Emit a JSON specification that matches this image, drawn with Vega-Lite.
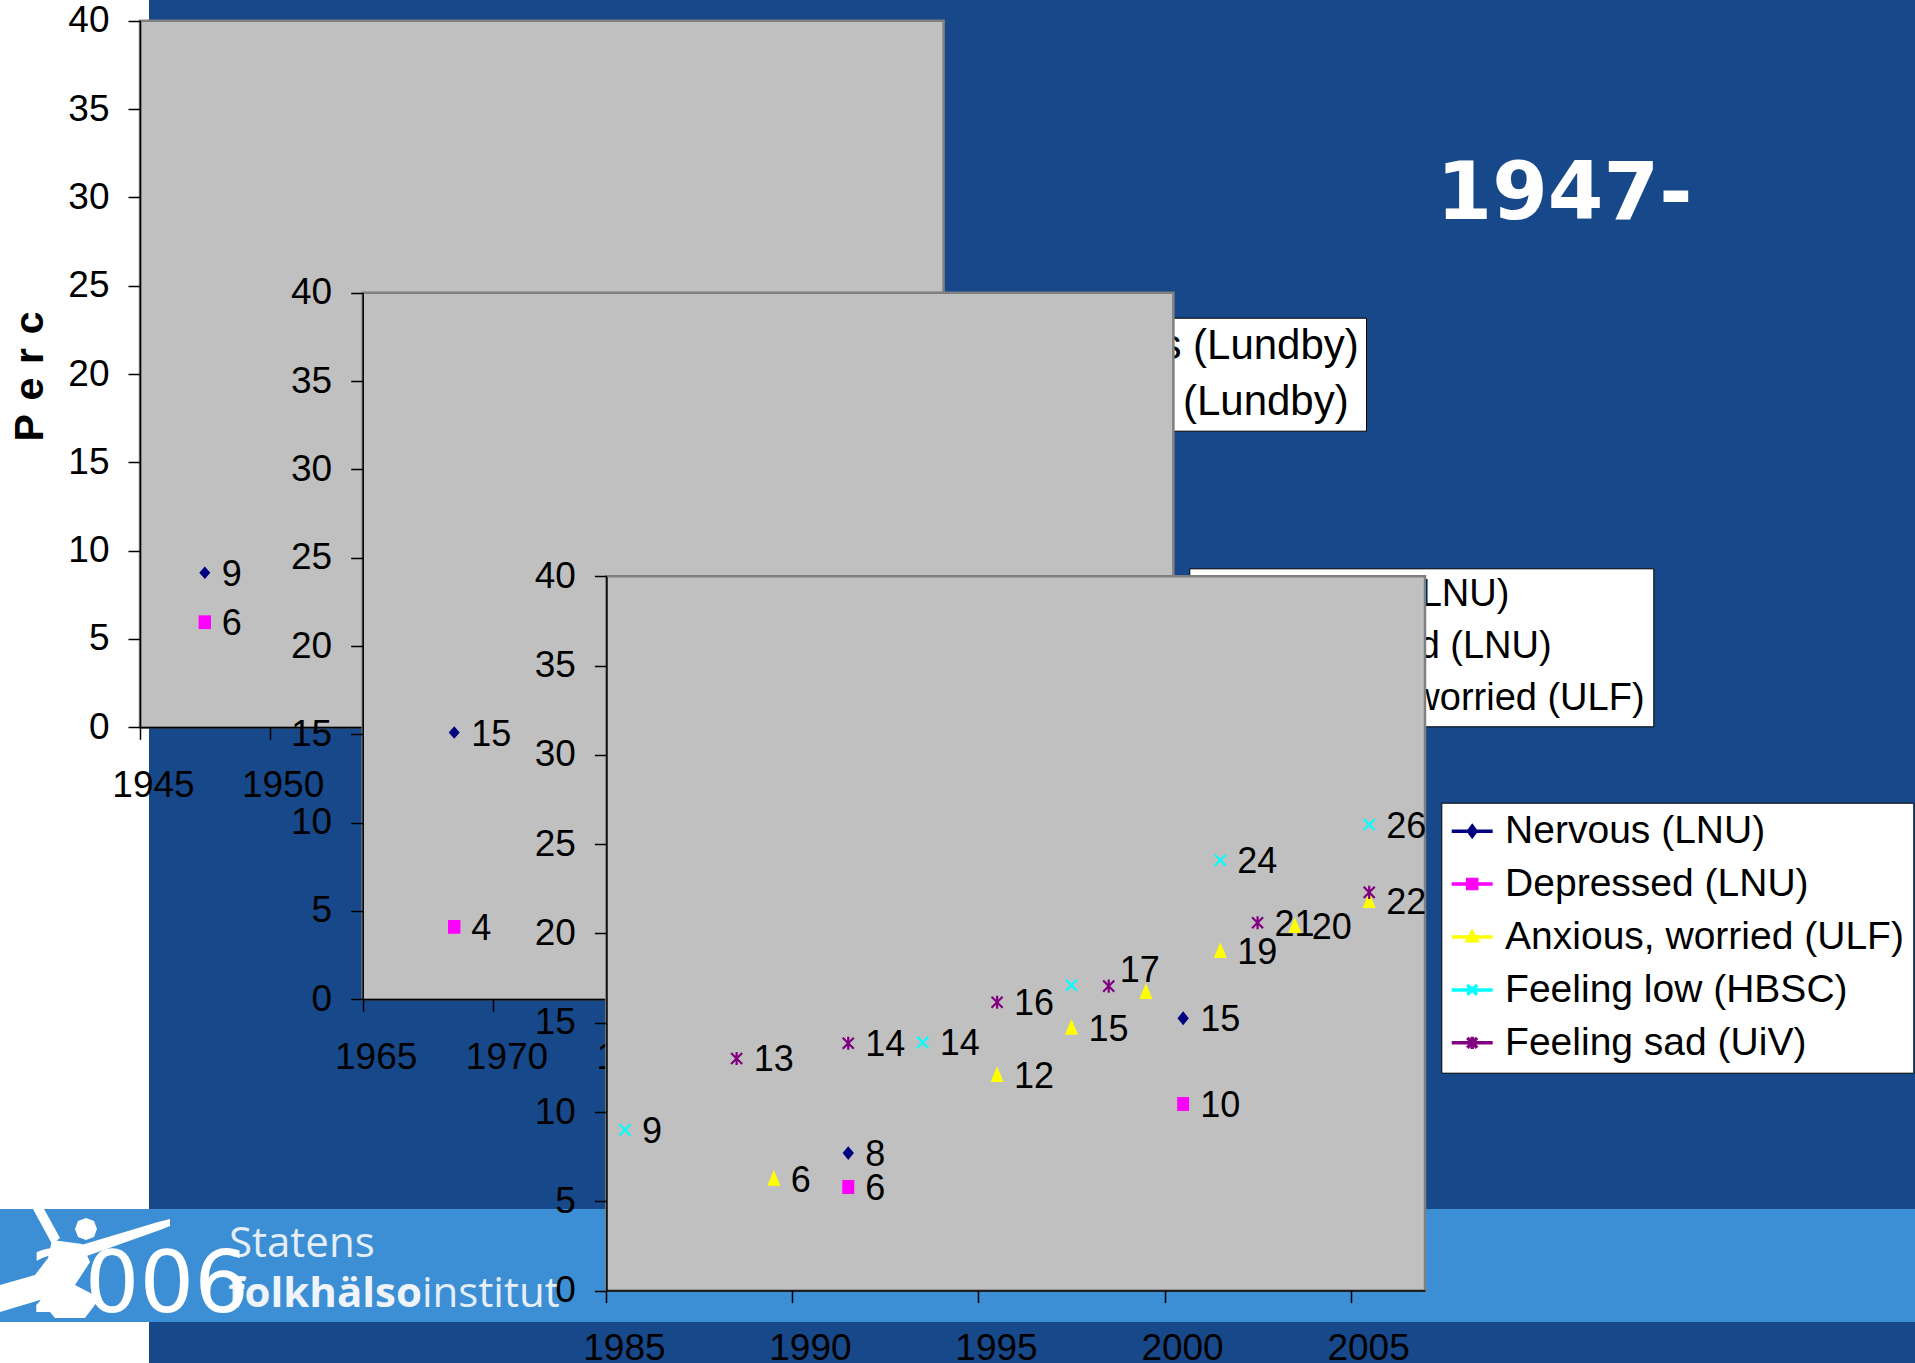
{
  "$schema": "https://vega.github.io/schema/vega-lite/v6.json",
  "background": "#17488A",
  "padding": 0,
  "spacing": 0,
  "bounds": "flush",
  "resolve": {
    "scale": {"color": "independent", "shape": "independent", "stroke": "independent"},
    "legend": {"color": "independent", "shape": "independent", "stroke": "independent"}
  },
  "datasets": {
    "chart1": [
      {"series": "Nervous (Lundby)", "year": 1947.5, "value": 8.75, "label": "9"},
      {"series": "Worried (Lundby)", "year": 1947.5, "value": 5.95, "label": "6"}
    ],
    "chart2": [
      {"series": "Nervous (LNU)", "year": 1968.5, "value": 15.1, "label": "15"},
      {"series": "Depressed (LNU)", "year": 1968.5, "value": 4.1, "label": "4"}
    ],
    "chart3": [
      {"series": "Nervous (LNU)", "year": 1991.5, "value": 7.7, "label": "8"},
      {"series": "Nervous (LNU)", "year": 2000.5, "value": 15.25, "label": "15"},
      {"series": "Depressed (LNU)", "year": 1991.5, "value": 5.8, "label": "6"},
      {"series": "Depressed (LNU)", "year": 2000.5, "value": 10.45, "label": "10"},
      {"series": "Anxious, worried (ULF)", "year": 1989.5, "value": 6.25, "label": "6"},
      {"series": "Anxious, worried (ULF)", "year": 1995.5, "value": 12.05, "label": "12"},
      {"series": "Anxious, worried (ULF)", "year": 1997.5, "value": 14.7, "label": "15"},
      {"series": "Anxious, worried (ULF)", "year": 1999.5, "value": 16.7, "label": ""},
      {"series": "Anxious, worried (ULF)", "year": 2001.5, "value": 19.0, "label": "19"},
      {"series": "Anxious, worried (ULF)", "year": 2003.5, "value": 20.4, "label": "20"},
      {"series": "Anxious, worried (ULF)", "year": 2005.5, "value": 21.8, "label": "22"},
      {"series": "Feeling low (HBSC)", "year": 1985.5, "value": 9.0, "label": "9"},
      {"series": "Feeling low (HBSC)", "year": 1993.5, "value": 13.9, "label": "14"},
      {"series": "Feeling low (HBSC)", "year": 1997.5, "value": 17.1, "label": ""},
      {"series": "Feeling low (HBSC)", "year": 2001.5, "value": 24.1, "label": "24"},
      {"series": "Feeling low (HBSC)", "year": 2005.5, "value": 26.1, "label": "26"},
      {"series": "Feeling sad (UiV)", "year": 1988.5, "value": 13.0, "label": "13"},
      {"series": "Feeling sad (UiV)", "year": 1991.5, "value": 13.85, "label": "14"},
      {"series": "Feeling sad (UiV)", "year": 1995.5, "value": 16.15, "label": "16"},
      {"series": "Feeling sad (UiV)", "year": 1998.5, "value": 17.05, "label": "17"},
      {"series": "Feeling sad (UiV)", "year": 2002.5, "value": 20.6, "label": "21"},
      {"series": "Feeling sad (UiV)", "year": 2005.5, "value": 22.3, "label": ""}
    ]
  },
  "config": {
    "view": {"stroke": null},
    "axis": {
      "grid": false,
      "labelFont": "Liberation Sans",
      "labelFontSize": 37,
      "labelColor": "#000000",
      "tickColor": "#000000",
      "tickWidth": 1.5,
      "tickSize": 12,
      "domainColor": "#000000",
      "domainWidth": 1.5,
      "labelFlush": false,
      "labelOverlap": false,
      "labelBound": false
    },
    "axisX": {"labelPadding": 28},
    "axisY": {"labelPadding": 19},
    "legend": {
      "labelFont": "Liberation Sans",
      "labelColor": "#000000",
      "labelLimit": 2000,
      "fillColor": "#FFFFFF",
      "strokeColor": "#000000"
    }
  },
  "vconcat": [
    {
      "width": 1915,
      "height": 1,
      "data": {"values": [{}]},
      "layer": [
        {
          "mark": {"type": "rect", "fill": "#FFFFFF"},
          "encoding": {"x": {"value": 0}, "x2": {"value": 149}, "y": {"value": 0}, "y2": {"value": 1363}}
        },
        {
          "mark": {"type": "rect", "fill": "#3C8FD4"},
          "encoding": {"x": {"value": 0}, "x2": {"value": 1915}, "y": {"value": 1209}, "y2": {"value": 1322}}
        },
        {
          "mark": {"type": "point", "filled": true, "fill": "#FFFFFF", "opacity": 1, "size": 28900, "shape": "M-0.612,-0.659L-0.482,-0.659L-0.294,-0.318L-0.388,-0.247ZM0.012,-0.553L0.106,-0.518L0.141,-0.424L0.106,-0.329L0.012,-0.294L-0.082,-0.329L-0.118,-0.424L-0.082,-0.518ZM-0.082,-0.224L0.859,-0.506L1,-0.541L1.0,-0.459L0.882,-0.412L-0.012,-0.094ZM-0.388,-0.294L-0.035,-0.247L0.059,-0.035L-0.118,0.235L0.176,0.388L0,0.624L-0.353,0.624L-0.529,0.412L-1,0.553L-1,0.235L-0.588,0.118L-0.435,-0.082Z"},
          "encoding": {"x": {"value": 85}, "y": {"value": 1265}}
        },
        {
          "mark": {"type": "text", "text": "Statens", "font": "Open Sans", "fontSize": 42, "color": "#E6EEF7", "align": "left", "baseline": "alphabetic"},
          "encoding": {"x": {"value": 229}, "y": {"value": 1256.7}}
        },
        {
          "mark": {"type": "text", "text": "folkhälso", "font": "Open Sans", "fontWeight": "bold", "fontSize": 42, "color": "#EEF4FA", "align": "right", "baseline": "alphabetic"},
          "encoding": {"x": {"value": 422}, "y": {"value": 1306.7}}
        },
        {
          "mark": {"type": "text", "text": "institut", "font": "Open Sans", "fontSize": 42, "color": "#E6EEF7", "align": "left", "baseline": "alphabetic"},
          "encoding": {"x": {"value": 422}, "y": {"value": 1306.7}}
        },
        {
          "mark": {"type": "text", "text": "2006", "font": "DejaVu Sans", "fontSize": 86, "color": "#FFFFFF", "align": "left", "baseline": "alphabetic"},
          "encoding": {"x": {"value": 30}, "y": {"value": 1311.7}}
        },
        {
          "mark": {"type": "text", "text": "1947-", "font": "DejaVu Sans", "fontWeight": "bold", "fontSize": 80, "color": "#FFFFFF", "align": "left", "baseline": "alphabetic"},
          "encoding": {"x": {"value": 1436.5}, "y": {"value": 219.3}}
        }
      ]
    },
    {
      "width": 1915,
      "height": 1,
      "data": {"name": "chart1"},
      "layer": [
        {
          "data": {"values": [{}]},
          "mark": {"type": "rect", "fill": "#C0C0C0", "stroke": "#808080", "strokeWidth": 2.5},
          "encoding": {
            "x": {"datum": 1945, "type": "quantitative", "scale": {"domain": [1945, 1976], "range": [140, 943.6], "nice": false, "zero": false}, "axis": {"orient": "bottom", "offset": 725.3, "values": [1945, 1950, 1955, 1960, 1965, 1970, 1975], "format": "d", "labelOffset": 13, "title": null, "zindex": 1}},
            "x2": {"datum": 1976},
            "y": {"datum": 0, "type": "quantitative", "scale": {"domain": [0, 40], "range": [726.3, 19.7], "nice": false, "zero": false}, "axis": {"orient": "left", "offset": -140, "values": [0, 5, 10, 15, 20, 25, 30, 35, 40], "title": "P\u2004e\u2004r\u2004c", "titleX": -109.3, "titleY": 375, "titleAngle": 270, "titleAlign": "center", "titleBaseline": "middle", "titleFont": "Liberation Sans", "titleFontWeight": "bold", "titleFontSize": 41, "titleColor": "#000000", "zindex": 1}},
            "y2": {"datum": 40}
          }
        },
        {
          "mark": {"type": "point", "filled": true, "opacity": 1, "size": 190, "strokeWidth": 0},
          "encoding": {
            "x": {"field": "year", "type": "quantitative", "scale": {"domain": [1945, 1976], "range": [140, 943.6], "nice": false, "zero": false}, "axis": {"orient": "bottom", "offset": 725.3, "values": [1945, 1950, 1955, 1960, 1965, 1970, 1975], "format": "d", "labelOffset": 13, "title": null, "zindex": 1}},
            "y": {"field": "value", "type": "quantitative", "scale": {"domain": [0, 40], "range": [726.3, 19.7], "nice": false, "zero": false}, "axis": {"orient": "left", "offset": -140, "values": [0, 5, 10, 15, 20, 25, 30, 35, 40], "title": "P\u2004e\u2004r\u2004c", "titleX": -109.3, "titleY": 375, "titleAngle": 270, "titleAlign": "center", "titleBaseline": "middle", "titleFont": "Liberation Sans", "titleFontWeight": "bold", "titleFontSize": 41, "titleColor": "#000000", "zindex": 1}},
            "color": {"field": "series", "type": "nominal", "scale": {"domain": ["Nervous (Lundby)", "Worried (Lundby)"], "range": ["#000080", "#FF00FF"]},
              "legend": {"orient": "none", "legendX": 959, "legendY": 316.7, "direction": "vertical", "title": null, "padding": 7, "labelFontSize": 42, "rowPadding": 14.7, "labelOffset": 15, "symbolOffset": 2, "symbolOpacity": 1,
                "encode": {"symbols": {"update": {
                  "shape": {"signal": "['M-2.5,0L2.5,0M0,-0.62L0.45,0L0,0.62L-0.45,0Z','M-2.5,0L2.5,0M-0.55,-0.55L0.55,-0.55L0.55,0.55L-0.55,0.55Z','M-2.5,0L2.5,0M0,-0.6L0.6,0.45L-0.6,0.45Z','M-2.5,0L2.5,0M-0.6,-0.6L0.6,0.6M0.6,-0.6L-0.6,0.6','M-2.5,0L2.5,0M-0.6,-0.6L0.6,0.6M0.6,-0.6L-0.6,0.6M0,-0.75L0,0.75'][datum.index]"},
                  "stroke": {"signal": "['#000080','#FF00FF','#FFFF00','#00FFFF','#800080'][datum.index]"},
                  "strokeWidth": {"value": 3.5}, "size": {"value": 269}, "opacity": {"value": 1}}}}}},
            "shape": {"field": "series", "type": "nominal", "scale": {"domain": ["Worried (Lundby)", "Nervous (Lundby)"], "range": ["M-0.9,-1L0.9,-1L0.9,1L-0.9,1Z", "M0,-0.9L0.8,0L0,0.9L-0.8,0Z"]}, "legend": null}
          }
        },
        {
          "mark": {"type": "text", "align": "left", "baseline": "middle", "dx": 17, "dy": 2, "font": "Liberation Sans", "fontSize": 36, "color": "#000000"},
          "encoding": {
            "x": {"field": "year", "type": "quantitative", "scale": {"domain": [1945, 1976], "range": [140, 943.6], "nice": false, "zero": false}, "axis": {"orient": "bottom", "offset": 725.3, "values": [1945, 1950, 1955, 1960, 1965, 1970, 1975], "format": "d", "labelOffset": 13, "title": null, "zindex": 1}},
            "y": {"field": "value", "type": "quantitative", "scale": {"domain": [0, 40], "range": [726.3, 19.7], "nice": false, "zero": false}, "axis": {"orient": "left", "offset": -140, "values": [0, 5, 10, 15, 20, 25, 30, 35, 40], "title": "P\u2004e\u2004r\u2004c", "titleX": -109.3, "titleY": 375, "titleAngle": 270, "titleAlign": "center", "titleBaseline": "middle", "titleFont": "Liberation Sans", "titleFontWeight": "bold", "titleFontSize": 41, "titleColor": "#000000", "zindex": 1}},
            "text": {"field": "label", "type": "nominal"}
          }
        }
      ]
    },
    {
      "width": 1915,
      "height": 1,
      "data": {"name": "chart2"},
      "layer": [
        {
          "data": {"values": [{}]},
          "mark": {"type": "rect", "fill": "#C0C0C0", "stroke": "#808080", "strokeWidth": 2.5},
          "encoding": {
            "x": {"datum": 1965, "type": "quantitative", "scale": {"domain": [1965, 1996], "range": [362.7, 1173.4], "nice": false, "zero": false}, "axis": {"orient": "bottom", "offset": 996.3, "values": [1965, 1970, 1975, 1980, 1985, 1990, 1995], "format": "d", "labelOffset": 13, "title": null, "zindex": 1}},
            "x2": {"datum": 1996},
            "y": {"datum": 0, "type": "quantitative", "scale": {"domain": [0, 40], "range": [997.3, 290.7], "nice": false, "zero": false}, "axis": {"orient": "left", "offset": -362.7, "values": [0, 5, 10, 15, 20, 25, 30, 35, 40], "title": null, "zindex": 1}},
            "y2": {"datum": 40}
          }
        },
        {
          "mark": {"type": "point", "filled": true, "opacity": 1, "size": 190, "strokeWidth": 0},
          "encoding": {
            "x": {"field": "year", "type": "quantitative", "scale": {"domain": [1965, 1996], "range": [362.7, 1173.4], "nice": false, "zero": false}, "axis": {"orient": "bottom", "offset": 996.3, "values": [1965, 1970, 1975, 1980, 1985, 1990, 1995], "format": "d", "labelOffset": 13, "title": null, "zindex": 1}},
            "y": {"field": "value", "type": "quantitative", "scale": {"domain": [0, 40], "range": [997.3, 290.7], "nice": false, "zero": false}, "axis": {"orient": "left", "offset": -362.7, "values": [0, 5, 10, 15, 20, 25, 30, 35, 40], "title": null, "zindex": 1}},
            "color": {"field": "series", "type": "nominal", "scale": {"domain": ["Nervous (LNU)", "Depressed (LNU)", "Anxious, worried (ULF)"], "range": ["#000080", "#FF00FF", "#FFFF00"]},
              "legend": {"orient": "none", "legendX": 1189.3, "legendY": 566.3, "direction": "vertical", "title": null, "padding": 8, "labelFontSize": 38, "rowPadding": 13.6, "labelOffset": 18.7, "symbolOffset": 2, "symbolOpacity": 1,
                "encode": {"symbols": {"update": {
                  "shape": {"signal": "['M-2.5,0L2.5,0M0,-0.62L0.45,0L0,0.62L-0.45,0Z','M-2.5,0L2.5,0M-0.55,-0.55L0.55,-0.55L0.55,0.55L-0.55,0.55Z','M-2.5,0L2.5,0M0,-0.6L0.6,0.45L-0.6,0.45Z','M-2.5,0L2.5,0M-0.6,-0.6L0.6,0.6M0.6,-0.6L-0.6,0.6','M-2.5,0L2.5,0M-0.6,-0.6L0.6,0.6M0.6,-0.6L-0.6,0.6M0,-0.75L0,0.75'][datum.index]"},
                  "stroke": {"signal": "['#000080','#FF00FF','#FFFF00','#00FFFF','#800080'][datum.index]"},
                  "strokeWidth": {"value": 3.5}, "size": {"value": 269}, "opacity": {"value": 1}}}}}},
            "shape": {"field": "series", "type": "nominal", "scale": {"domain": ["Anxious, worried (ULF)", "Depressed (LNU)", "Nervous (LNU)"], "range": ["M0,-1.05L0.95,0.95L-0.95,0.95Z", "M-0.9,-1L0.9,-1L0.9,1L-0.9,1Z", "M0,-0.9L0.8,0L0,0.9L-0.8,0Z"]}, "legend": null}
          }
        },
        {
          "mark": {"type": "text", "align": "left", "baseline": "middle", "dx": 17, "dy": 2, "font": "Liberation Sans", "fontSize": 36, "color": "#000000"},
          "encoding": {
            "x": {"field": "year", "type": "quantitative", "scale": {"domain": [1965, 1996], "range": [362.7, 1173.4], "nice": false, "zero": false}, "axis": {"orient": "bottom", "offset": 996.3, "values": [1965, 1970, 1975, 1980, 1985, 1990, 1995], "format": "d", "labelOffset": 13, "title": null, "zindex": 1}},
            "y": {"field": "value", "type": "quantitative", "scale": {"domain": [0, 40], "range": [997.3, 290.7], "nice": false, "zero": false}, "axis": {"orient": "left", "offset": -362.7, "values": [0, 5, 10, 15, 20, 25, 30, 35, 40], "title": null, "zindex": 1}},
            "text": {"field": "label", "type": "nominal"}
          }
        }
      ]
    },
    {
      "width": 1915,
      "height": 1,
      "data": {"name": "chart3"},
      "layer": [
        {
          "data": {"values": [{}]},
          "mark": {"type": "rect", "fill": "#C0C0C0", "stroke": "#808080", "strokeWidth": 2.5},
          "encoding": {
            "x": {"datum": 1985, "type": "quantitative", "scale": {"domain": [1985, 2007], "range": [606.4, 1425], "nice": false, "zero": false}, "axis": {"orient": "bottom", "offset": 1286.6, "values": [1985, 1990, 1995, 2000, 2005], "format": "d", "labelOffset": 17.5, "title": null, "zindex": 1}},
            "x2": {"datum": 2007},
            "y": {"datum": 0, "type": "quantitative", "scale": {"domain": [0, 40], "range": [1287.6, 573.3], "nice": false, "zero": false}, "axis": {"orient": "left", "offset": -606.4, "values": [0, 5, 10, 15, 20, 25, 30, 35, 40], "title": null, "zindex": 1}},
            "y2": {"datum": 40}
          }
        },
        {
          "mark": {"type": "point", "filled": true, "opacity": 1, "size": 170, "strokeWidth": 2.2},
          "encoding": {
            "x": {"field": "year", "type": "quantitative", "scale": {"domain": [1985, 2007], "range": [606.4, 1425], "nice": false, "zero": false}, "axis": {"orient": "bottom", "offset": 1286.6, "values": [1985, 1990, 1995, 2000, 2005], "format": "d", "labelOffset": 17.5, "title": null, "zindex": 1}},
            "y": {"field": "value", "type": "quantitative", "scale": {"domain": [0, 40], "range": [1287.6, 573.3], "nice": false, "zero": false}, "axis": {"orient": "left", "offset": -606.4, "values": [0, 5, 10, 15, 20, 25, 30, 35, 40], "title": null, "zindex": 1}},
            "color": {"field": "series", "type": "nominal", "scale": {"domain": ["Nervous (LNU)", "Depressed (LNU)", "Anxious, worried (ULF)", "Feeling low (HBSC)", "Feeling sad (UiV)"], "range": ["#000080", "#FF00FF", "#FFFF00", "#00FFFF", "#800080"]},
              "legend": {"orient": "none", "legendX": 1441.3, "legendY": 799.7, "direction": "vertical", "title": null, "padding": 9, "labelFontSize": 39, "rowPadding": 12.9, "labelOffset": 13.4, "symbolOffset": 2.4, "symbolOpacity": 1,
                "encode": {"symbols": {"update": {
                  "shape": {"signal": "['M-2.5,0L2.5,0M0,-0.62L0.45,0L0,0.62L-0.45,0Z','M-2.5,0L2.5,0M-0.55,-0.55L0.55,-0.55L0.55,0.55L-0.55,0.55Z','M-2.5,0L2.5,0M0,-0.6L0.6,0.45L-0.6,0.45Z','M-2.5,0L2.5,0M-0.6,-0.6L0.6,0.6M0.6,-0.6L-0.6,0.6','M-2.5,0L2.5,0M-0.6,-0.6L0.6,0.6M0.6,-0.6L-0.6,0.6M0,-0.75L0,0.75'][datum.index]"},
                  "stroke": {"signal": "['#000080','#FF00FF','#FFFF00','#00FFFF','#800080'][datum.index]"},
                  "strokeWidth": {"value": 3.5}, "size": {"value": 269}, "opacity": {"value": 1}}}}}},
            "shape": {"field": "series", "type": "nominal", "scale": {"domain": ["Feeling sad (UiV)", "Feeling low (HBSC)", "Anxious, worried (ULF)", "Depressed (LNU)", "Nervous (LNU)"], "range": ["M-0.85,-0.85L0.85,0.85M0.85,-0.85L-0.85,0.85M0,-1L0,1", "M-0.85,-0.85L0.85,0.85M0.85,-0.85L-0.85,0.85", "M0,-0.95L0.75,0.85L-0.75,0.85Z", "M-0.75,-0.9L0.75,-0.9L0.75,0.9L-0.75,0.9Z", "M0,-0.8L0.65,0L0,0.8L-0.65,0Z"]}, "legend": null},
            "stroke": {"field": "series", "type": "nominal", "scale": {"domain": ["Depressed (LNU)", "Anxious, worried (ULF)", "Feeling low (HBSC)", "Feeling sad (UiV)", "Nervous (LNU)"], "range": ["#FF00FF", "#FFFF00", "#00FFFF", "#800080", "#000080"]}, "legend": null}
          }
        },
        {
          "transform": [{"filter": "datum.label !== '' && !(datum.series === 'Feeling sad (UiV)' && datum.year === 1998.5)"}],
          "mark": {"type": "text", "align": "left", "baseline": "middle", "dx": 17, "dy": 2, "font": "Liberation Sans", "fontSize": 36, "color": "#000000"},
          "encoding": {
            "x": {"field": "year", "type": "quantitative", "scale": {"domain": [1985, 2007], "range": [606.4, 1425], "nice": false, "zero": false}, "axis": {"orient": "bottom", "offset": 1286.6, "values": [1985, 1990, 1995, 2000, 2005], "format": "d", "labelOffset": 17.5, "title": null, "zindex": 1}},
            "y": {"field": "value", "type": "quantitative", "scale": {"domain": [0, 40], "range": [1287.6, 573.3], "nice": false, "zero": false}, "axis": {"orient": "left", "offset": -606.4, "values": [0, 5, 10, 15, 20, 25, 30, 35, 40], "title": null, "zindex": 1}},
            "text": {"field": "label", "type": "nominal"}
          }
        },
        {
          "transform": [{"filter": "datum.series === 'Feeling sad (UiV)' && datum.year === 1998.5"}],
          "mark": {"type": "text", "align": "left", "baseline": "middle", "dx": 11, "dy": -15, "font": "Liberation Sans", "fontSize": 36, "color": "#000000"},
          "encoding": {
            "x": {"field": "year", "type": "quantitative", "scale": {"domain": [1985, 2007], "range": [606.4, 1425], "nice": false, "zero": false}, "axis": {"orient": "bottom", "offset": 1286.6, "values": [1985, 1990, 1995, 2000, 2005], "format": "d", "labelOffset": 17.5, "title": null, "zindex": 1}},
            "y": {"field": "value", "type": "quantitative", "scale": {"domain": [0, 40], "range": [1287.6, 573.3], "nice": false, "zero": false}, "axis": {"orient": "left", "offset": -606.4, "values": [0, 5, 10, 15, 20, 25, 30, 35, 40], "title": null, "zindex": 1}},
            "text": {"field": "label", "type": "nominal"}
          }
        }
      ]
    }
  ]
}
